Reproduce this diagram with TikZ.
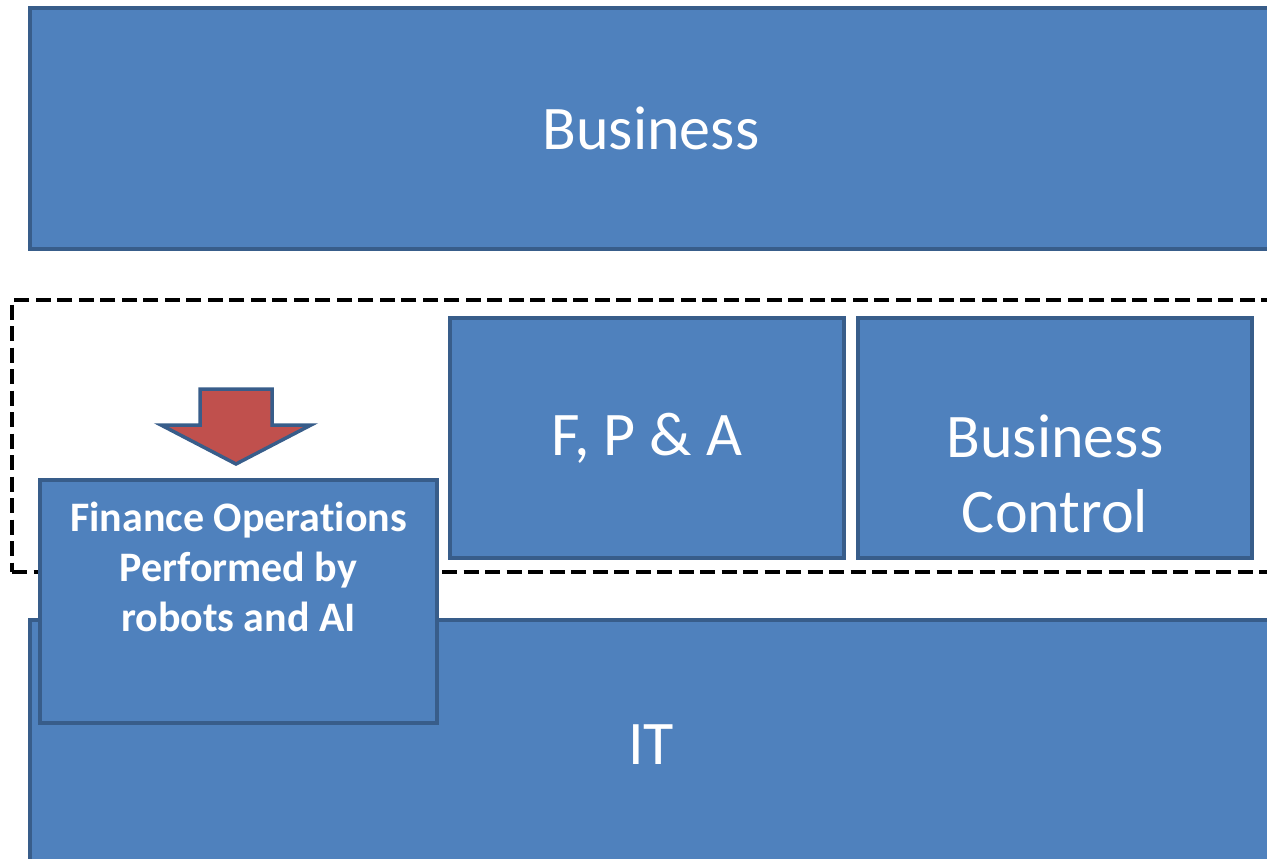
\documentclass[tikz,border=0pt]{standalone}
\usepackage{fontspec}
\setmainfont{Carlito}[Ligatures=NoCommon]
\definecolor{boxfill}{HTML}{4F81BD}
\definecolor{boxline}{HTML}{385D8A}
\definecolor{arrowfill}{HTML}{C0504D}
\begin{document}
\begin{tikzpicture}[x=1pt,y=-1pt,
  block/.style={rectangle, draw=boxline, fill=boxfill, line width=3.5pt, text=white, inner sep=0pt, align=center, font=\fontsize{62}{75}\selectfont},
  groupbox/.style={rectangle, draw=black, line width=4pt, dash pattern=on 15pt off 6.5pt, inner sep=0pt},
  smalltext/.style={text=white, inner sep=0pt, align=center, font=\bfseries\fontsize{42}{50}\selectfont},
  downarrow/.style={fill=arrowfill, draw=boxline, line width=3.5pt, line join=miter}]
\useasboundingbox (0,0) rectangle (1267,859);
\node[block, minimum width=1242pt, minimum height=241pt] (business) at (651,128.5) {Business};
\node[groupbox, minimum width=1270pt, minimum height=272pt] (group) at (647,436) {};
\node[block, minimum width=394pt, minimum height=240pt] (fpa) at (647,438) {F, P \& A};
\node[block, minimum width=394pt, minimum height=240pt] (bc) at (1055,438) {};
\node[text=white, inner sep=0pt, align=center, font=\fontsize{62}{75}\selectfont] (bctext) at (1055,474) {Business\\Control};
\node[block, minimum width=1242pt, minimum height=250pt] (it) at (651,745) {IT};
\node[block, minimum width=397pt, minimum height=243pt] (fin) at (238.5,601.5) {};
\node[smalltext, anchor=north] (fintext) at (238.5,502) {Finance Operations\\Performed by\\robots and AI};
\draw[downarrow] (200,389) coordinate (a1) -- (272,389) -- (272,425) -- (311,425) -- (236,464) coordinate (tip) -- (161,425) -- (200,425) -- cycle;
\end{tikzpicture}
\end{document}
